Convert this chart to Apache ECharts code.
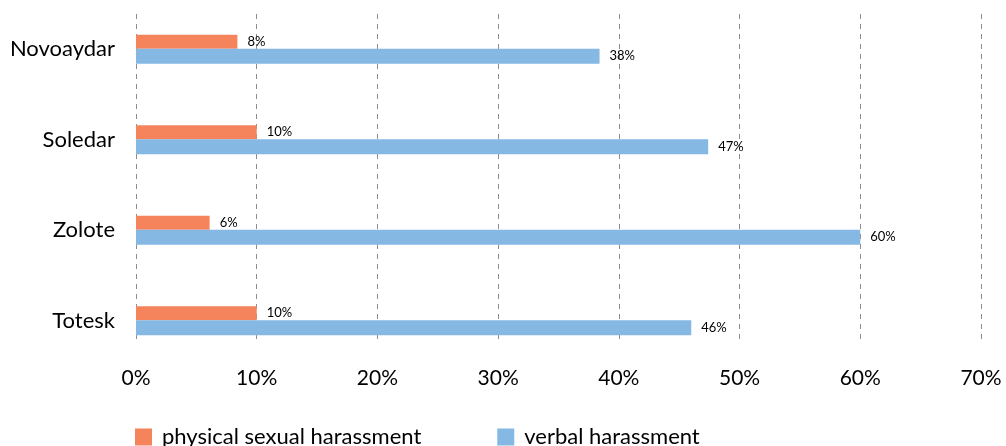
<!DOCTYPE html>
<html lang="en">
<head>
    <meta charset="UTF-8">
    <title>harassment</title>
    <script src="https://cdn.jsdelivr.net/npm/echarts@6/dist/echarts.min.js"></script>
    <style>
        html, body { margin: 0; padding: 0; background: #fff; }
        #box { width: 1006px; height: 446px; }
    </style>
</head>
<body>
    <div id="box"></div>
    <script>
        // data
        var towns = ['Novoaydar', 'Soledar', 'Zolote', 'Totesk'];
        var physical = [8.4, 10, 6.1, 10];
        var verbal = [38.4, 47.4, 60, 46];
        var xTicks = [0, 10, 20, 30, 40, 50, 60, 70];

        var font = 'Lato';
        var myChart = echarts.init(document.getElementById('box'));

        var barLabel = {
            show: true,
            position: 'right',
            distance: 10,
            fontFamily: font,
            fontSize: 13,
            color: '#000',
            formatter: function (p) { return Math.round(p.value) + '%'; }
        };

        var option = {
            backgroundColor: '#fff',
            animation: false,
            legend: {
                left: 130,
                top: 421,
                itemWidth: 17,
                itemHeight: 17,
                itemGap: 76,
                icon: 'rect',
                textStyle: { fontFamily: font, fontSize: 22, color: '#000', padding: [0, 0, 0, 5] },
                data: ['physical sexual harassment', 'verbal harassment']
            },
            grid: [
                { left: 136, right: 25, top: 4, height: 362 },   // bars
                { left: 136, right: 25, top: 14, bottom: 103 }   // dashed gridlines
            ],
            xAxis: [
                {
                    gridIndex: 0,
                    type: 'value',
                    min: xTicks[0],
                    max: xTicks[xTicks.length - 1],
                    interval: 10,
                    splitLine: { show: false },
                    axisLine: { show: false },
                    axisTick: { show: false },
                    axisLabel: {
                        margin: 2,
                        fontFamily: font,
                        fontSize: 21,
                        color: '#000',
                        formatter: '{value}%'
                    }
                },
                {
                    gridIndex: 1,
                    type: 'value',
                    min: xTicks[0],
                    max: xTicks[xTicks.length - 1],
                    interval: 10,
                    axisLine: { show: false },
                    axisTick: { show: false },
                    axisLabel: { show: false },
                    splitLine: { show: true, lineStyle: { color: '#8c8c8c', type: [5, 5], width: 1 } }
                }
            ],
            yAxis: [
                {
                    gridIndex: 0,
                    type: 'category',
                    inverse: true,
                    data: towns,
                    axisLine: { show: false },
                    axisTick: { show: false },
                    axisLabel: { margin: 21, fontFamily: font, fontSize: 22, color: '#000' }
                },
                {
                    gridIndex: 1,
                    type: 'value',
                    show: false
                }
            ],
            series: [
                {
                    name: 'physical sexual harassment',
                    type: 'bar',
                    xAxisIndex: 0,
                    yAxisIndex: 0,
                    barWidth: 14,
                    barGap: '0%',
                    itemStyle: { color: '#F5845C' },
                    label: barLabel,
                    data: physical
                },
                {
                    name: 'verbal harassment',
                    type: 'bar',
                    xAxisIndex: 0,
                    yAxisIndex: 0,
                    barWidth: 15,
                    barGap: '0%',
                    itemStyle: { color: '#85B9E3' },
                    label: barLabel,
                    data: verbal
                }
            ]
        };

        myChart.setOption(option);
    </script>
</body>
</html>
